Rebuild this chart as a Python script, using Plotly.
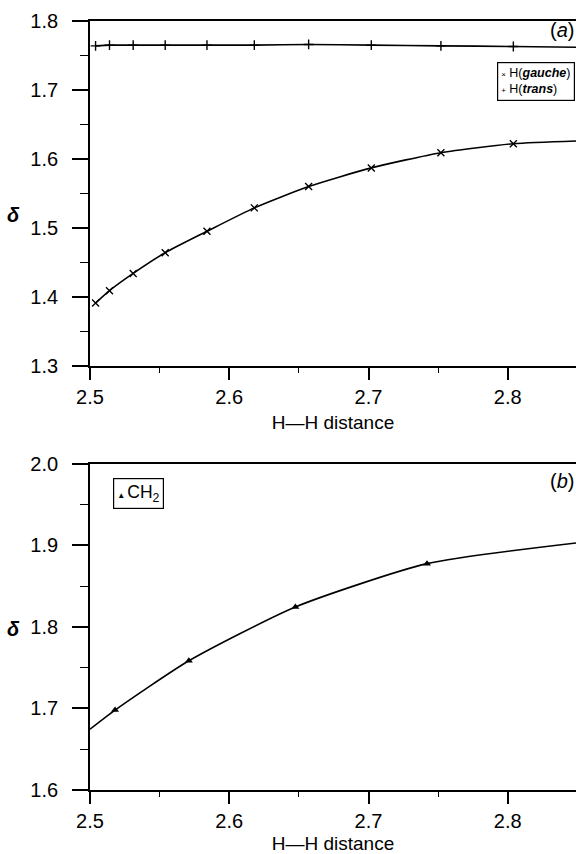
import plotly.graph_objects as go
from plotly.subplots import make_subplots

# ---------------- data ----------------
# panel (a)
hh_a = [2.504, 2.514, 2.531, 2.554, 2.584, 2.618, 2.657, 2.702, 2.752, 2.804]
gauche = [1.391, 1.409, 1.434, 1.464, 1.495, 1.529, 1.560, 1.587, 1.609, 1.622]
trans = [1.764, 1.765, 1.765, 1.765, 1.765, 1.765, 1.766, 1.765, 1.764, 1.763]
# curve end values at the right edge of the panel
edge_x = 2.849
gauche_edge = 1.626
trans_edge = 1.762

# panel (b)
hh_b = [2.518, 2.571, 2.6475, 2.742]
ch2 = [1.698, 1.7585, 1.8245, 1.8776]
ch2_start_x = 2.5
ch2_start = 1.6746
ch2_edge = 1.903

x_ticks = [2.5, 2.6, 2.7, 2.8]
y_ticks_a = [1.3, 1.4, 1.5, 1.6, 1.7, 1.8]
y_ticks_b = [1.6, 1.7, 1.8, 1.9, 2.0]

# ---------------- figure ----------------
FONT = "Liberation Sans, Arial, sans-serif"
W, H = 576, 854
ML, MR, MT, MB = 90, 0, 21, 62

fig = make_subplots(rows=2, cols=1, shared_xaxes=False, vertical_spacing=0.1)

line_style = dict(color="black", width=1.6, shape="spline", smoothing=0.6)

# (a) lines
fig.add_trace(go.Scatter(x=hh_a + [edge_x], y=gauche + [gauche_edge], mode="lines",
                         line=line_style, showlegend=False, hoverinfo="skip"), row=1, col=1)
fig.add_trace(go.Scatter(x=hh_a + [edge_x], y=trans + [trans_edge], mode="lines",
                         line=line_style, showlegend=False, hoverinfo="skip"), row=1, col=1)
# (a) markers
fig.add_trace(go.Scatter(x=hh_a, y=gauche, mode="markers", name="H(gauche)",
                         marker=dict(symbol="x-thin", size=7, color="black",
                                     line=dict(color="black", width=1.4)),
                         showlegend=False), row=1, col=1)
fig.add_trace(go.Scatter(x=hh_a, y=trans, mode="markers", name="H(trans)",
                         marker=dict(symbol="cross-thin", size=7, color="black",
                                     line=dict(color="black", width=1.4)),
                         showlegend=False), row=1, col=1)

# (b) line + markers
fig.add_trace(go.Scatter(x=[ch2_start_x] + hh_b + [edge_x], y=[ch2_start] + ch2 + [ch2_edge],
                         mode="lines", line=line_style, showlegend=False, hoverinfo="skip"),
              row=2, col=1)
fig.add_trace(go.Scatter(x=hh_b, y=ch2, mode="markers", name="CH2",
                         marker=dict(symbol="triangle-up", size=7, color="black"),
                         showlegend=False), row=2, col=1)

plot_h = H - MT - MB
top_dom = [(H - MB - 366.7) / plot_h, 1.0]
bot_dom = [0.0, (H - MB - 465.0) / plot_h]

xaxis_common = dict(
    range=[2.5, edge_x], tickvals=x_ticks, ticktext=[f"{v:.1f}" for v in x_ticks],
    ticks="outside", ticklen=12, tickwidth=1.5, tickcolor="black",
    minor=dict(dtick=0.05, tick0=2.5, ticks="outside", ticklen=5, tickwidth=1.3, tickcolor="black"),
    showline=True, linecolor="black", linewidth=1.8, mirror=True,
    showgrid=False, zeroline=False,
    tickfont=dict(family=FONT, size=20, color="black"),
    ticklabelstandoff=0,
    title=dict(text="H\u2014H distance", font=dict(family=FONT, size=19, color="black"), standoff=9),
)
yaxis_common = dict(
    ticks="outside", ticklen=16, tickwidth=1.5, tickcolor="black",
    showline=True, linecolor="black", linewidth=1.8, mirror=False,
    showgrid=False, zeroline=False,
    tickfont=dict(family=FONT, size=20, color="black"),
    ticklabelstandoff=10,
)

fig.update_xaxes(**xaxis_common, row=1, col=1)
fig.update_xaxes(**xaxis_common, row=2, col=1)
fig.update_yaxes(**yaxis_common, range=[1.3, 1.8], tickvals=y_ticks_a,
                 ticktext=[f"{v:.1f}" for v in y_ticks_a],
                 minor=dict(dtick=0.05, tick0=1.3, ticks="outside", ticklen=8, tickwidth=1.3, tickcolor="black"),
                 domain=top_dom, row=1, col=1)
fig.update_yaxes(**yaxis_common, range=[1.6, 2.0], tickvals=y_ticks_b,
                 ticktext=[f"{v:.1f}" for v in y_ticks_b],
                 minor=dict(dtick=0.05, tick0=1.6, ticks="outside", ticklen=8, tickwidth=1.3, tickcolor="black"),
                 domain=bot_dom, row=2, col=1)

ann = []
# delta axis labels
ann.append(dict(text="<b><i>\u03b4</i></b>", xref="paper", yref="y", x=-0.158, y=1.518,
                showarrow=False, font=dict(family=FONT, size=20, color="black"), xanchor="center"))
ann.append(dict(text="<b><i>\u03b4</i></b>", xref="paper", yref="y2", x=-0.158, y=1.797,
                showarrow=False, font=dict(family=FONT, size=20, color="black"), xanchor="center"))
# panel labels
ann.append(dict(text="(<i>a</i>)", xref="paper", yref="y", x=1.0, y=1.7866, xanchor="right",
                showarrow=False, font=dict(family=FONT, size=20, color="black")))
ann.append(dict(text="(<i>b</i>)", xref="paper", yref="y2", x=1.0, y=1.979, xanchor="right",
                showarrow=False, font=dict(family=FONT, size=20, color="black")))
# legends drawn as boxed text
ann.append(dict(text="<span style='font-size:8px'>\u00d7</span> H(<b><i>gauche</i></b>)<br>"
                     "<span style='font-size:8px'>+</span> H(<b><i>trans</i></b>)",
                xref="paper", yref="y", x=0.997, y=1.740, xanchor="right", yanchor="top",
                align="left", showarrow=False, bordercolor="black", borderwidth=1.2, borderpad=3,
                bgcolor="white", font=dict(family=FONT, size=12.5, color="black")))
ann.append(dict(text="<span style='font-size:8px'>\u25b2 </span>CH<sub>2</sub>",
                xref="x2", yref="y2", x=2.5163, y=1.983, xanchor="left", yanchor="top",
                align="left", showarrow=False, bordercolor="black", borderwidth=1.2, borderpad=3,
                bgcolor="white", font=dict(family=FONT, size=17.5, color="black")))

fig.update_layout(
    width=W, height=H, margin=dict(l=ML, r=MR, t=MT, b=MB),
    paper_bgcolor="white", plot_bgcolor="white",
    annotations=ann, showlegend=False,
)

fig.write_html("out.html", config={"displayModeBar": False},
               post_script="document.body.style.margin='0px';document.body.style.overflow='hidden';")
